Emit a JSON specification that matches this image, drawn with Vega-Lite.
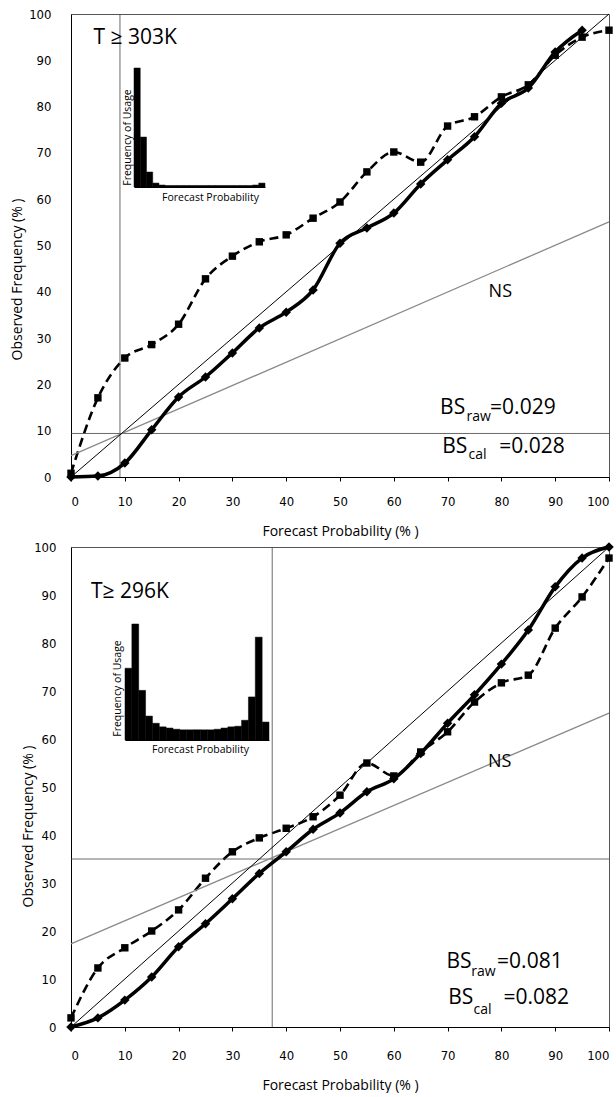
{
  "$schema": "https://vega.github.io/schema/vega-lite/v6.json",
  "padding": {"left": 9, "top": 7, "right": 0, "bottom": 0},
  "spacing": 0,
  "background": "#ffffff",
  "config": {
    "view": {"stroke": "#555555", "strokeWidth": 1},
    "font": "Open Sans",
    "axis": {
      "grid": false,
      "labelFont": "Liberation Sans Narrow, DejaVu Sans Condensed, Liberation Sans, sans-serif",
      "labelFontSize": 13,
      "labelColor": "#000000",
      "titleFont": "Open Sans",
      "titleFontSize": 14,
      "titleFontWeight": "normal",
      "titleColor": "#000000",
      "domainColor": "#000000",
      "tickColor": "#000000"
    },
    "text": {"font": "Open Sans", "color": "#000000"}
  },
  "datasets": {
    "raw303": [
      {"p": 0, "v": 0.8}, {"p": 5, "v": 17.1}, {"p": 10, "v": 25.7}, {"p": 15, "v": 28.6},
      {"p": 20, "v": 33.0}, {"p": 25, "v": 42.8}, {"p": 30, "v": 47.7}, {"p": 35, "v": 50.8},
      {"p": 40, "v": 52.3}, {"p": 45, "v": 55.9}, {"p": 50, "v": 59.4}, {"p": 55, "v": 65.9},
      {"p": 60, "v": 70.2}, {"p": 65, "v": 68.0}, {"p": 70, "v": 75.8}, {"p": 75, "v": 77.8},
      {"p": 80, "v": 82.1}, {"p": 85, "v": 84.7}, {"p": 90, "v": 91.1}, {"p": 95, "v": 95.0},
      {"p": 100, "v": 96.5}
    ],
    "cal303": [
      {"p": 0, "v": 0}, {"p": 5, "v": 0.2}, {"p": 10, "v": 3.0}, {"p": 15, "v": 10.2},
      {"p": 20, "v": 17.3}, {"p": 25, "v": 21.6}, {"p": 30, "v": 26.8}, {"p": 35, "v": 32.2},
      {"p": 40, "v": 35.6}, {"p": 45, "v": 40.4}, {"p": 50, "v": 50.5}, {"p": 55, "v": 53.8},
      {"p": 60, "v": 57.0}, {"p": 65, "v": 63.3}, {"p": 70, "v": 68.5}, {"p": 75, "v": 73.5},
      {"p": 80, "v": 80.7}, {"p": 85, "v": 84.0}, {"p": 90, "v": 91.8}, {"p": 95, "v": 96.5}
    ],
    "raw296": [
      {"p": 0, "v": 1.9}, {"p": 5, "v": 12.3}, {"p": 10, "v": 16.5}, {"p": 15, "v": 20.0},
      {"p": 20, "v": 24.4}, {"p": 25, "v": 31.0}, {"p": 30, "v": 36.5}, {"p": 35, "v": 39.4},
      {"p": 40, "v": 41.4}, {"p": 45, "v": 43.8}, {"p": 50, "v": 48.3}, {"p": 55, "v": 55.0},
      {"p": 60, "v": 52.3}, {"p": 65, "v": 57.3}, {"p": 70, "v": 61.5}, {"p": 75, "v": 67.7},
      {"p": 80, "v": 71.7}, {"p": 85, "v": 73.3}, {"p": 90, "v": 83.1}, {"p": 95, "v": 89.6},
      {"p": 100, "v": 97.7}
    ],
    "cal296": [
      {"p": 0, "v": 0}, {"p": 5, "v": 1.9}, {"p": 10, "v": 5.6}, {"p": 15, "v": 10.4},
      {"p": 20, "v": 16.7}, {"p": 25, "v": 21.5}, {"p": 30, "v": 26.7}, {"p": 35, "v": 32.0},
      {"p": 40, "v": 36.5}, {"p": 45, "v": 41.2}, {"p": 50, "v": 44.6}, {"p": 55, "v": 49.0},
      {"p": 60, "v": 51.7}, {"p": 65, "v": 57.0}, {"p": 70, "v": 63.3}, {"p": 75, "v": 69.2},
      {"p": 80, "v": 75.6}, {"p": 85, "v": 82.7}, {"p": 90, "v": 91.7}, {"p": 95, "v": 97.7},
      {"p": 100, "v": 100}
    ],
    "diag": [{"p": 0, "v": 0}, {"p": 100, "v": 100}],
    "ns303": [{"p": 0, "v": 4.6}, {"p": 100, "v": 55.1}],
    "ns296": [{"p": 0, "v": 17.3}, {"p": 100, "v": 65.4}],
    "climx303": [{"p": 9.1}],
    "climy303": [{"v": 9.4}],
    "climx296": [{"p": 37.4}],
    "climy296": [{"v": 35.0}],
    "hist303": [
      {"prob": 0, "freq": 54.8}, {"prob": 5, "freq": 23.0}, {"prob": 10, "freq": 6.9}, {"prob": 15, "freq": 1.8},
      {"prob": 20, "freq": 0.9}, {"prob": 25, "freq": 0.7}, {"prob": 30, "freq": 0.7}, {"prob": 35, "freq": 0.7},
      {"prob": 40, "freq": 0.7}, {"prob": 45, "freq": 0.7}, {"prob": 50, "freq": 0.7}, {"prob": 55, "freq": 0.7},
      {"prob": 60, "freq": 0.7}, {"prob": 65, "freq": 0.7}, {"prob": 70, "freq": 0.7}, {"prob": 75, "freq": 0.7},
      {"prob": 80, "freq": 0.7}, {"prob": 85, "freq": 0.7}, {"prob": 90, "freq": 0.7}, {"prob": 95, "freq": 0.9},
      {"prob": 100, "freq": 1.8}
    ],
    "hist296": [
      {"prob": 0, "freq": 12.0}, {"prob": 5, "freq": 19.4}, {"prob": 10, "freq": 8.3}, {"prob": 15, "freq": 4.0},
      {"prob": 20, "freq": 2.8}, {"prob": 25, "freq": 2.2}, {"prob": 30, "freq": 2.0}, {"prob": 35, "freq": 1.8},
      {"prob": 40, "freq": 1.7}, {"prob": 45, "freq": 1.7}, {"prob": 50, "freq": 1.7}, {"prob": 55, "freq": 1.7},
      {"prob": 60, "freq": 1.7}, {"prob": 65, "freq": 1.8}, {"prob": 70, "freq": 2.0}, {"prob": 75, "freq": 2.2},
      {"prob": 80, "freq": 2.3}, {"prob": 85, "freq": 3.3}, {"prob": 90, "freq": 7.2}, {"prob": 95, "freq": 17.2},
      {"prob": 100, "freq": 3.0}
    ],
    "ann303": [
      {"p": 4.2, "v": 94.8, "text": "T ≥ 303K", "kind": "title"},
      {"p": 79.8, "v": 40.0, "text": "NS", "kind": "ns"},
      {"p": 68.6, "v": 14.9, "text": "BS", "kind": "main"},
      {"p": 73.5, "v": 13.0, "text": "raw", "kind": "sub"},
      {"p": 77.9, "v": 14.9, "text": "=0.029", "kind": "main"},
      {"p": 69.0, "v": 6.5, "text": "BS", "kind": "main"},
      {"p": 73.9, "v": 4.8, "text": "cal", "kind": "sub"},
      {"p": 79.6, "v": 6.5, "text": "=0.028", "kind": "main"}
    ],
    "ann296": [
      {"p": 3.7, "v": 90.6, "text": "T≥ 296K", "kind": "title"},
      {"p": 79.7, "v": 55.2, "text": "NS", "kind": "ns"},
      {"p": 69.8, "v": 13.5, "text": "BS", "kind": "main"},
      {"p": 74.4, "v": 11.5, "text": "raw", "kind": "sub"},
      {"p": 79.2, "v": 13.5, "text": "=0.081", "kind": "main"},
      {"p": 70.1, "v": 6.0, "text": "BS", "kind": "main"},
      {"p": 74.8, "v": 3.5, "text": "cal", "kind": "sub"},
      {"p": 80.4, "v": 6.0, "text": "=0.082", "kind": "main"}
    ]
  },
  "vconcat": [
    {
      "width": 538,
      "height": 463,
      "layer": [
        {
          "layer": [
            {
              "data": {"name": "raw303"},
              "mark": {"type": "line", "color": "#000000", "strokeWidth": 2.6, "strokeDash": [9, 5], "interpolate": "monotone"},
              "encoding": {
                "x": {"field": "p", "type": "quantitative", "scale": {"domain": [0, 100], "nice": false, "zero": false},
                  "axis": {"title": "Forecast Probability (% )", "values": [0, 10, 20, 30, 40, 50, 60, 70, 80, 90, 100], "tickSize": 4, "labelPadding": 14, "titlePadding": 16}},
                "y": {"field": "v", "type": "quantitative", "scale": {"domain": [0, 100], "nice": false},
                  "axis": {"title": "Observed Frequency (% )", "values": [0, 10, 20, 30, 40, 50, 60, 70, 80, 90, 100], "ticks": false, "labelPadding": 20, "titleX": -47, "titleY": 265}}
              }
            },
            {
              "data": {"name": "climx303"},
              "mark": {"type": "rule", "color": "#444444", "strokeWidth": 0.8},
              "encoding": {"x": {"field": "p", "type": "quantitative"}}
            },
            {
              "data": {"name": "climy303"},
              "mark": {"type": "rule", "color": "#444444", "strokeWidth": 0.8},
              "encoding": {"y": {"field": "v", "type": "quantitative"}}
            },
            {
              "data": {"name": "ns303"},
              "mark": {"type": "line", "color": "#8a8a8a", "strokeWidth": 1.3},
              "encoding": {"x": {"field": "p", "type": "quantitative"}, "y": {"field": "v", "type": "quantitative"}}
            },
            {
              "data": {"name": "diag"},
              "mark": {"type": "line", "color": "#000000", "strokeWidth": 1},
              "encoding": {"x": {"field": "p", "type": "quantitative"}, "y": {"field": "v", "type": "quantitative"}}
            },
            {
              "data": {"name": "raw303"},
              "mark": {"type": "point", "shape": "square", "filled": true, "size": 55, "color": "#000000", "opacity": 1},
              "encoding": {"x": {"field": "p", "type": "quantitative"}, "y": {"field": "v", "type": "quantitative"}}
            },
            {
              "data": {"name": "cal303"},
              "mark": {"type": "line", "color": "#000000", "strokeWidth": 3.5, "interpolate": "monotone"},
              "encoding": {"x": {"field": "p", "type": "quantitative"}, "y": {"field": "v", "type": "quantitative"}}
            },
            {
              "data": {"name": "cal303"},
              "mark": {"type": "point", "shape": "diamond", "filled": true, "size": 90, "color": "#000000", "opacity": 1},
              "encoding": {"x": {"field": "p", "type": "quantitative"}, "y": {"field": "v", "type": "quantitative"}}
            },
            {
              "data": {"name": "ann303"},
              "transform": [{"filter": "datum.kind === 'title'"}],
              "mark": {"type": "text", "align": "left", "baseline": "middle", "fontSize": 21},
              "encoding": {"x": {"field": "p", "type": "quantitative"}, "y": {"field": "v", "type": "quantitative"}, "text": {"field": "text"}}
            },
            {
              "data": {"name": "ann303"},
              "transform": [{"filter": "datum.kind === 'ns'"}],
              "mark": {"type": "text", "align": "center", "baseline": "middle", "fontSize": 18},
              "encoding": {"x": {"field": "p", "type": "quantitative"}, "y": {"field": "v", "type": "quantitative"}, "text": {"field": "text"}}
            },
            {
              "data": {"name": "ann303"},
              "transform": [{"filter": "datum.kind === 'main'"}],
              "mark": {"type": "text", "align": "left", "baseline": "middle", "fontSize": 21},
              "encoding": {"x": {"field": "p", "type": "quantitative"}, "y": {"field": "v", "type": "quantitative"}, "text": {"field": "text"}}
            },
            {
              "data": {"name": "ann303"},
              "transform": [{"filter": "datum.kind === 'sub'"}],
              "mark": {"type": "text", "align": "left", "baseline": "middle", "fontSize": 14},
              "encoding": {"x": {"field": "p", "type": "quantitative"}, "y": {"field": "v", "type": "quantitative"}, "text": {"field": "text"}}
            }
          ]
        },
        {
          "data": {"name": "hist303"},
          "mark": {"type": "bar", "color": "#000000", "stroke": "#000000", "strokeWidth": 0.5},
          "encoding": {
            "x": {"field": "prob", "type": "ordinal", "scale": {"range": [63, 194], "paddingInner": 0, "paddingOuter": 0},
              "axis": {"orient": "bottom", "offset": -290, "title": "Forecast Probability", "labels": false, "ticks": false, "domain": true, "titleFontSize": 10.5, "titlePadding": 5, "titleX": 139}},
            "y": {"field": "freq", "type": "quantitative", "scale": {"domain": [0, 54.8], "range": [173, 54], "nice": false},
              "axis": {"orient": "left", "offset": -63, "title": "Frequency of Usage", "labels": false, "ticks": false, "domain": false, "titleFontSize": 10.5, "titlePadding": 2, "titleY": 123}}
          }
        }
      ],
      "resolve": {"scale": {"x": "independent", "y": "independent"}}
    },
    {
      "width": 538,
      "height": 480,
      "layer": [
        {
          "layer": [
            {
              "data": {"name": "raw296"},
              "mark": {"type": "line", "color": "#000000", "strokeWidth": 2.6, "strokeDash": [9, 5], "interpolate": "monotone"},
              "encoding": {
                "x": {"field": "p", "type": "quantitative", "scale": {"domain": [0, 100], "nice": false, "zero": false},
                  "axis": {"title": "Forecast Probability (% )", "values": [0, 10, 20, 30, 40, 50, 60, 70, 80, 90, 100], "tickSize": 4, "labelPadding": 18, "titlePadding": 16}},
                "y": {"field": "v", "type": "quantitative", "scale": {"domain": [0, 100], "nice": false},
                  "axis": {"title": "Observed Frequency (% )", "values": [0, 10, 20, 30, 40, 50, 60, 70, 80, 90, 100], "ticks": false, "labelPadding": 15, "titleX": -36, "titleY": 279}}
              }
            },
            {
              "data": {"name": "climx296"},
              "mark": {"type": "rule", "color": "#444444", "strokeWidth": 0.8},
              "encoding": {"x": {"field": "p", "type": "quantitative"}}
            },
            {
              "data": {"name": "climy296"},
              "mark": {"type": "rule", "color": "#444444", "strokeWidth": 0.8},
              "encoding": {"y": {"field": "v", "type": "quantitative"}}
            },
            {
              "data": {"name": "ns296"},
              "mark": {"type": "line", "color": "#8a8a8a", "strokeWidth": 1.3},
              "encoding": {"x": {"field": "p", "type": "quantitative"}, "y": {"field": "v", "type": "quantitative"}}
            },
            {
              "data": {"name": "diag"},
              "mark": {"type": "line", "color": "#000000", "strokeWidth": 1},
              "encoding": {"x": {"field": "p", "type": "quantitative"}, "y": {"field": "v", "type": "quantitative"}}
            },
            {
              "data": {"name": "raw296"},
              "mark": {"type": "point", "shape": "square", "filled": true, "size": 55, "color": "#000000", "opacity": 1},
              "encoding": {"x": {"field": "p", "type": "quantitative"}, "y": {"field": "v", "type": "quantitative"}}
            },
            {
              "data": {"name": "cal296"},
              "mark": {"type": "line", "color": "#000000", "strokeWidth": 3.5, "interpolate": "monotone"},
              "encoding": {"x": {"field": "p", "type": "quantitative"}, "y": {"field": "v", "type": "quantitative"}}
            },
            {
              "data": {"name": "cal296"},
              "mark": {"type": "point", "shape": "diamond", "filled": true, "size": 90, "color": "#000000", "opacity": 1},
              "encoding": {"x": {"field": "p", "type": "quantitative"}, "y": {"field": "v", "type": "quantitative"}}
            },
            {
              "data": {"name": "ann296"},
              "transform": [{"filter": "datum.kind === 'title'"}],
              "mark": {"type": "text", "align": "left", "baseline": "middle", "fontSize": 21},
              "encoding": {"x": {"field": "p", "type": "quantitative"}, "y": {"field": "v", "type": "quantitative"}, "text": {"field": "text"}}
            },
            {
              "data": {"name": "ann296"},
              "transform": [{"filter": "datum.kind === 'ns'"}],
              "mark": {"type": "text", "align": "center", "baseline": "middle", "fontSize": 18},
              "encoding": {"x": {"field": "p", "type": "quantitative"}, "y": {"field": "v", "type": "quantitative"}, "text": {"field": "text"}}
            },
            {
              "data": {"name": "ann296"},
              "transform": [{"filter": "datum.kind === 'main'"}],
              "mark": {"type": "text", "align": "left", "baseline": "middle", "fontSize": 21},
              "encoding": {"x": {"field": "p", "type": "quantitative"}, "y": {"field": "v", "type": "quantitative"}, "text": {"field": "text"}}
            },
            {
              "data": {"name": "ann296"},
              "transform": [{"filter": "datum.kind === 'sub'"}],
              "mark": {"type": "text", "align": "left", "baseline": "middle", "fontSize": 14},
              "encoding": {"x": {"field": "p", "type": "quantitative"}, "y": {"field": "v", "type": "quantitative"}, "text": {"field": "text"}}
            }
          ]
        },
        {
          "data": {"name": "hist296"},
          "mark": {"type": "bar", "color": "#000000", "stroke": "#000000", "strokeWidth": 0.5},
          "encoding": {
            "x": {"field": "prob", "type": "ordinal", "scale": {"range": [54, 198], "paddingInner": 0, "paddingOuter": 0},
              "axis": {"orient": "bottom", "offset": -287, "title": "Forecast Probability", "labels": false, "ticks": false, "domain": true, "titleFontSize": 10.5, "titlePadding": 4, "titleX": 129}},
            "y": {"field": "freq", "type": "quantitative", "scale": {"domain": [0, 19.4], "range": [193, 77], "nice": false},
              "axis": {"orient": "left", "offset": -54, "title": "Frequency of Usage", "labels": false, "ticks": false, "domain": false, "titleFontSize": 10.5, "titlePadding": 3, "titleY": 141}}
          }
        }
      ],
      "resolve": {"scale": {"x": "independent", "y": "independent"}}
    }
  ]
}
